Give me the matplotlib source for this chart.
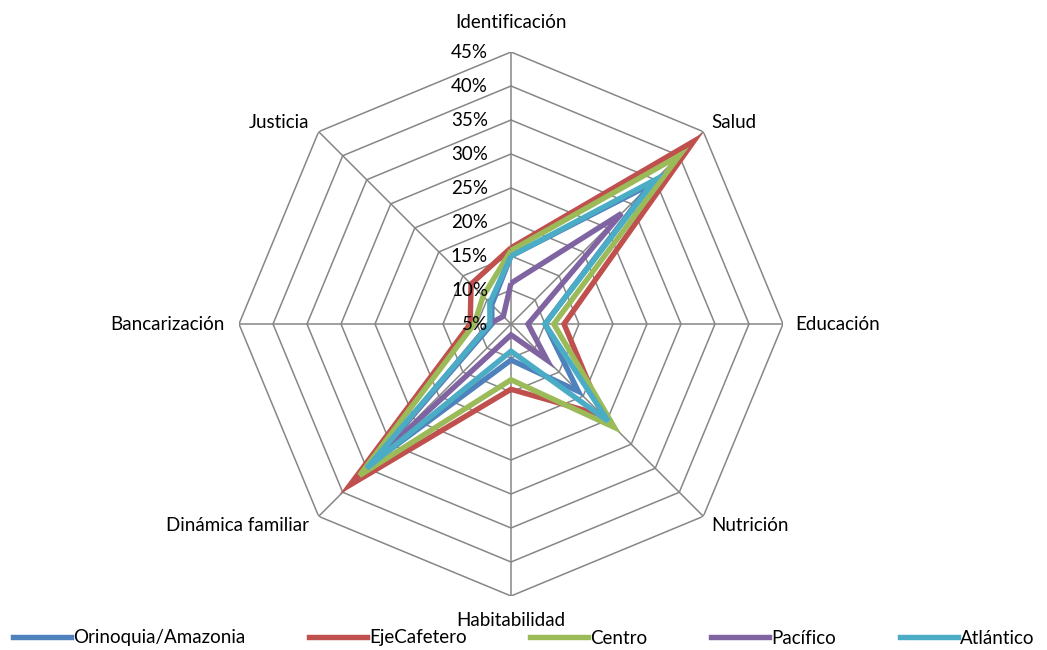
import numpy as np
import matplotlib

matplotlib.use("Agg")
import matplotlib.pyplot as plt
from matplotlib.lines import Line2D

plt.rcParams["font.family"] = ["Lato", "DejaVu Sans"]

categories = ["Identificación", "Salud", "Educación", "Nutrición",
              "Habitabilidad", "Dinámica familiar", "Bancarización", "Justicia"]

# share of households per dimension (%)
orinoquia = [15.0, 34.0, 10.0, 19.0, 10.3, 34.0, 7.8, 9.0]
eje_cafetero = [16.2, 43.0, 12.8, 24.0, 14.6, 38.5, 11.0, 13.3]
centro = [15.8, 40.0, 11.3, 26.5, 13.2, 36.5, 10.4, 10.8]
pacifico = [11.0, 28.0, 7.5, 12.5, 6.6, 33.0, 8.2, 6.6]
atlantico = [15.0, 35.0, 10.0, 25.2, 9.0, 35.0, 8.1, 9.4]

series_names = ["Orinoquia/Amazonia", "EjeCafetero", "Centro", "Pacífico", "Atlántico"]
series_values = [orinoquia, eje_cafetero, centro, pacifico, atlantico]
series_colors = ["#4F81BD", "#C0504D", "#9BBB59", "#8064A2", "#4BACC6"]

ticks = [5, 10, 15, 20, 25, 30, 35, 40, 45]

# label offsets (pixels) from each outer vertex, and alignment
label_pos = [((0, 30), "center"), ((8, 9), "left"), ((12, 0), "left"),
             ((8, -9), "left"), ((0, -24), "center"), ((-10, -9), "right"),
             ((-14, 0), "right"), ((-9, 9), "right")]

GRID = "#868686"
FS = 13.5

theta = np.linspace(0, 2 * np.pi, len(categories), endpoint=False)
closed = np.append(theta, theta[0])

fig = plt.figure(figsize=(10.47, 6.5), dpi=100)
ax = fig.add_axes([239 / 1047, 54 / 650, 544 / 1047, 544 / 650], projection="polar")
ax.set_theta_zero_location("N")
ax.set_theta_direction(-1)
ax.set_ylim(ticks[0], ticks[-1])
ax.grid(False)
ax.spines["polar"].set_visible(False)
ax.set_xticks([])
ax.set_yticks([])

# octagonal rings + spokes
for lvl in ticks[1:]:
    ax.plot(closed, [lvl] * len(closed), color=GRID, lw=1.1, zorder=1)
for t in theta:
    ax.plot([t, t], [ticks[0], ticks[-1]], color=GRID, lw=1.1, zorder=1)

for name, vals, col in zip(series_names, series_values, series_colors):
    v = np.append(vals, vals[0])
    ax.plot(closed, v, color=col, lw=3.9, solid_joinstyle="miter",
            solid_capstyle="butt", zorder=3, clip_on=False)

for lvl in ticks:
    ax.annotate(f"{lvl}%", xy=(0, lvl), xytext=(-23, 0), textcoords="offset pixels",
                ha="right", va="center", fontsize=FS, zorder=5)

for t, cat, ((dx, dy), ha) in zip(theta, categories, label_pos):
    ax.annotate(cat, xy=(t, ticks[-1]), xytext=(dx, dy), textcoords="offset pixels",
                ha=ha, va="center", fontsize=FS, annotation_clip=False)

handles = [Line2D([], [], color=c, lw=3.9) for c in series_colors]
fig.legend(handles, series_names, loc="center", bbox_to_anchor=(0.5, 12 / 650),
           ncol=5, frameon=False, fontsize=FS, handlelength=3.1,
           handletextpad=0.1, columnspacing=3.4, borderaxespad=0, borderpad=0)

fig.savefig("out.png", dpi=100)
